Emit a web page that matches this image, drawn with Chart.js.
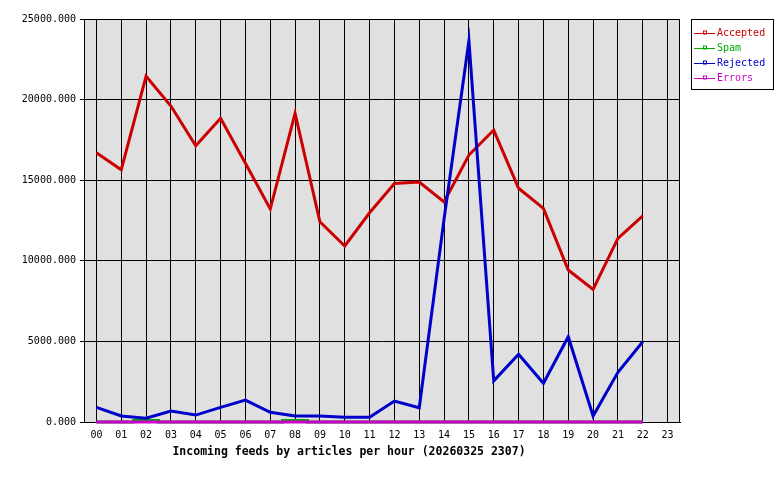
<!DOCTYPE html>
<html lang="en">
<head>
    <meta charset="UTF-8">
    <title>Incoming feeds by articles per hour</title>
    <script src="https://cdn.jsdelivr.net/npm/chart.js"></script>
    <style>
        body { margin: 0; background: #ffffff; }
        #chart { display: block; }
    </style>
</head>
<body>
    <canvas id="chart" width="780" height="480"></canvas>

    <script>
        // --- Data ---
        const hours = ['00','01','02','03','04','05','06','07','08','09','10','11','12','13','14','15','16','17','18','19','20','21','22','23'];
        const accepted = [16700, 15650, 21450, 19600, 17140, 18840, 16050, 13210, 19150, 12420, 10920, 12980, 14800, 14890, 13650, 16560, 18110, 14500, 13250, 9430, 8230, 11390, 12780];
        const spam     = [0, 0, 90, 0, 0, 0, 0, 0, 90, 0, 0, 0, 0, 0, 0, 0, 0, 0, 0, 0, 0, 0, 0];
        const rejected = [910, 370, 230, 680, 430, 910, 1360, 600, 370, 370, 290, 290, 1300, 880, 12600, 23650, 2550, 4200, 2400, 5290, 370, 3080, 4980];
        const errors   = [0, 0, 0, 0, 0, 0, 0, 0, 0, 0, 0, 0, 0, 0, 0, 0, 0, 0, 0, 0, 0, 0, 0];
        const yTicks = [0, 5000, 10000, 15000, 20000, 25000];
        const chartTitle = 'Incoming feeds by articles per hour (20260325 2307)';

        const mono = '"DejaVu Sans Mono", "Liberation Mono", monospace';

        // plot background + frame (under the lines)
        const plotFrame = {
            id: 'plotFrame',
            beforeDraw(chart) {
                const { ctx, chartArea: a } = chart;
                ctx.save();
                ctx.fillStyle = '#e0e0e0';
                ctx.fillRect(a.left, a.top, a.right - a.left, a.bottom - a.top);
                ctx.restore();
            },
            beforeDatasetsDraw(chart) {
                const { ctx, chartArea: a } = chart;
                ctx.save();
                ctx.strokeStyle = '#000000';
                ctx.lineWidth = 1;
                ctx.strokeRect(Math.round(a.left) + 0.5, Math.round(a.top) + 0.5,
                    Math.round(a.right - a.left) - 1, Math.round(a.bottom - a.top));
                ctx.restore();
            }
        };

        // boxed legend on the right + caption under the axis
        const sideLegend = {
            id: 'sideLegend',
            afterDraw(chart) {
                const ctx = chart.ctx;
                ctx.save();
                ctx.fillStyle = '#ffffff';
                ctx.fillRect(691, 19, 82, 70);
                ctx.strokeStyle = '#000000';
                ctx.lineWidth = 1;
                ctx.strokeRect(691.5, 19.5, 82, 70);
                ctx.font = '10px ' + mono;
                ctx.textBaseline = 'middle';
                ctx.textAlign = 'left';
                chart.data.datasets.forEach((ds, i) => {
                    const y = 33.5 + i * 15;
                    ctx.strokeStyle = ds.borderColor;
                    ctx.beginPath();
                    ctx.moveTo(694, y);
                    ctx.lineTo(715, y);
                    ctx.stroke();
                    ctx.strokeRect(703.5, y - 2.5, 3, 3);
                    ctx.fillStyle = ds.borderColor;
                    ctx.fillText(ds.label, 717, y);
                });

                ctx.fillStyle = '#000000';
                ctx.font = 'bold 11.5px ' + mono;
                ctx.textAlign = 'center';
                ctx.fillText(chartTitle, 349, 452);
                ctx.restore();
            }
        };

        const line = (label, data, color, order, extra) => Object.assign({
            label, data,
            borderColor: color,
            backgroundColor: color,
            borderWidth: 3,
            pointRadius: 0,
            tension: 0,
            fill: false,
            clip: false,
            order
        }, extra || {});

        new Chart(document.getElementById('chart'), {
            type: 'line',
            data: {
                labels: hours,
                datasets: [
                    line('Accepted', accepted, '#cc0000', 3),
                    line('Spam', spam, '#00aa00', 2, { stepped: 'middle' }),
                    line('Rejected', rejected, '#0000cc', 1),
                    line('Errors', errors, '#cc00cc', 0)
                ]
            },
            options: {
                responsive: false,
                animation: false,
                devicePixelRatio: 1,
                layout: { padding: { top: 19, right: 100, left: 0, bottom: 0 } },
                plugins: { legend: { display: false }, tooltip: { enabled: false } },
                scales: {
                    x: {
                        type: 'category',
                        offset: true,
                        grid: { color: '#000000', offset: false, drawTicks: false, tickLength: 0 },
                        border: { color: '#000000' },
                        ticks: { color: '#000000', font: { family: mono, size: 10 }, padding: 7, maxRotation: 0, autoSkip: false },
                        afterFit: s => { s.height = 58; }
                    },
                    y: {
                        min: yTicks[0],
                        max: yTicks[yTicks.length - 1],
                        afterBuildTicks: s => { s.ticks = yTicks.map(v => ({ value: v })); },
                        grid: { color: '#000000', tickLength: 4 },
                        border: { color: '#000000' },
                        ticks: { color: '#000000', font: { family: mono, size: 10 }, padding: 4, callback: v => Number(v).toFixed(3) },
                        afterFit: s => { s.width = 84; }
                    }
                }
            },
            plugins: [plotFrame, sideLegend]
        });
    </script>
</body>
</html>
